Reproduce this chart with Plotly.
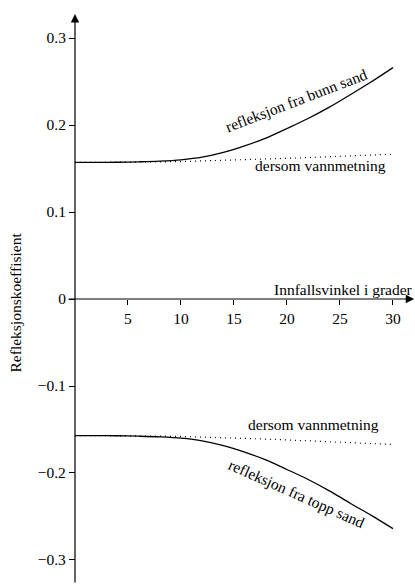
import plotly.graph_objects as go

# Angle of incidence (degrees)
angle = [0, 2, 4, 6, 8, 10, 12, 14, 16, 18, 20, 22, 24, 26, 28, 30]

# Reflection coefficient, bottom of sand layer (solid) and water-saturated case (dotted)
bunn_sand = [0.157, 0.157, 0.1572, 0.1577, 0.1585, 0.160, 0.163, 0.1685, 0.176,
             0.185, 0.196, 0.2075, 0.2205, 0.235, 0.250, 0.266]
bunn_vann = [0.157, 0.157, 0.1571, 0.1573, 0.1576, 0.158, 0.1586, 0.1592, 0.160,
             0.1608, 0.1617, 0.1626, 0.1636, 0.1646, 0.1655, 0.1665]

# Reflection coefficient, top of sand layer (solid) and water-saturated case (dotted)
topp_sand = [-0.157, -0.157, -0.1572, -0.1577, -0.1585, -0.160, -0.163, -0.1685, -0.176,
             -0.185, -0.196, -0.2075, -0.2205, -0.235, -0.249, -0.264]
topp_vann = [-0.157, -0.157, -0.1571, -0.1573, -0.1576, -0.158, -0.1586, -0.1593, -0.1601,
             -0.161, -0.162, -0.163, -0.164, -0.1651, -0.1661, -0.1672]

x_ticks = [5, 10, 15, 20, 25, 30]
y_ticks = [-0.3, -0.2, -0.1, 0, 0.1, 0.2, 0.3]
y_ticktext = ["\u22120.3", "\u22120.2", "\u22120.1", "0", "0.1", "0.2", "0.3"]

W, H = 415, 584
X_RANGE = [-7.075, 32.08]
Y_RANGE = [-0.3276, 0.3437]
x0_frac = (0 - X_RANGE[0]) / (X_RANGE[1] - X_RANGE[0])
y0_frac = (0 - Y_RANGE[0]) / (Y_RANGE[1] - Y_RANGE[0])

FONT = "Liberation Serif"
FS = 15.5

fig = go.Figure()
solid = dict(color="black", width=1.3)
dotted = dict(color="black", width=1.2, dash="1px,4px")
fig.add_trace(go.Scatter(x=angle, y=bunn_sand, mode="lines", line=solid, line_shape="spline"))
fig.add_trace(go.Scatter(x=angle, y=bunn_vann, mode="lines", line=dotted))
fig.add_trace(go.Scatter(x=angle, y=topp_sand, mode="lines", line=solid, line_shape="spline"))
fig.add_trace(go.Scatter(x=angle, y=topp_vann, mode="lines", line=dotted))

arrow = dict(text="", showarrow=True, arrowhead=2, arrowsize=1.4, arrowwidth=1.2,
             arrowcolor="black", xref="x", yref="y", axref="x", ayref="y")

annotations = [
    # axis lines with arrowheads
    dict(x=0, y=0.3276, ax=0, ay=Y_RANGE[0], **arrow),
    dict(x=32.0, y=0, ax=-0.75, ay=0, **arrow),
    # axis titles
    dict(x=32.06, y=0.0115, xref="x", yref="y", xanchor="right", yanchor="middle",
         text="Innfallsvinkel i grader", showarrow=False),
    dict(x=-5.66, y=-0.004, xref="x", yref="y", textangle=-90,
         text="Refleksjonskoeffisient", showarrow=False),
    # curve labels
    dict(x=20.85, y=0.2287, xref="x", yref="y", textangle=-21,
         text="refleksjon fra bunn sand", showarrow=False),
    dict(x=23.2, y=0.154, xref="x", yref="y",
         text="dersom vannmetning", showarrow=False),
    dict(x=22.5, y=-0.1437, xref="x", yref="y",
         text="dersom vannmetning", showarrow=False),
    dict(x=20.9, y=-0.224, xref="x", yref="y", textangle=24,
         text="refleksjon fra topp sand", showarrow=False),
]

fig.update_layout(
    width=W, height=H,
    margin=dict(l=0, r=0, t=0, b=0),
    paper_bgcolor="white", plot_bgcolor="white",
    showlegend=False,
    font=dict(family=FONT, size=FS, color="black"),
    annotations=annotations,
    xaxis=dict(range=X_RANGE, anchor="free", position=y0_frac,
               tickvals=x_ticks, ticks="outside", ticklen=5, tickwidth=1, tickcolor="black",
               showline=False, showgrid=False, zeroline=False,
               tickfont=dict(family=FONT, size=FS, color="black")),
    yaxis=dict(range=Y_RANGE, anchor="free", position=x0_frac,
               tickvals=y_ticks, ticktext=y_ticktext,
               ticks="outside", ticklen=6, tickwidth=1, tickcolor="black",
               showline=False, showgrid=False, zeroline=False,
               tickfont=dict(family=FONT, size=FS, color="black")),
)

fig.write_html("out.html")
